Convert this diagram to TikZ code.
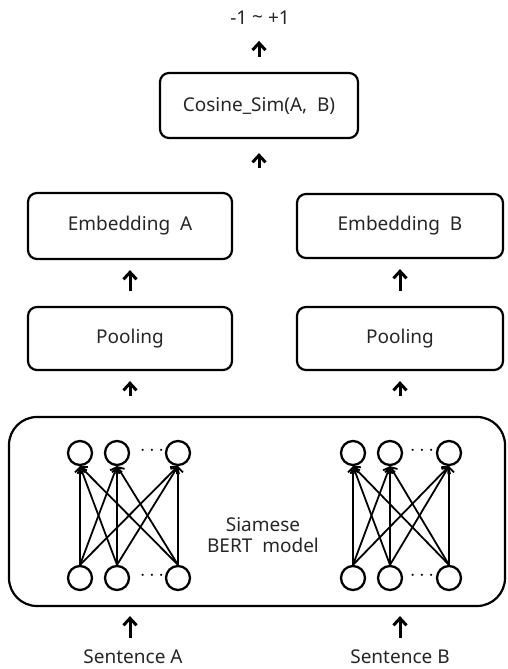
\documentclass[tikz,border=0pt]{standalone}
\usepackage{fontspec}
\setmainfont{Noto Sans}
\usetikzlibrary{arrows.meta,calc}

\begin{document}
\begin{tikzpicture}[x=1pt,y=-1pt,
  txt/.style={font=\fontsize{19}{22}\selectfont, text=black!85},
  block/.style={draw, line width=2.2pt, rounded corners=9pt, txt, inner sep=0pt},
  neuron/.style={draw, line width=2.3pt, circle, minimum size=24pt, inner sep=0pt},
  up/.style={line width=3pt, -{Straight Barb[length=7pt,width=13pt,line width=3pt]}},
  link/.style={line width=1.8pt, -{Straight Barb[length=5pt,width=10pt,line width=1.8pt]}},
  dots/.style={font=\fontsize{22}{22}\selectfont, inner sep=0pt}
]
\useasboundingbox (0,0) rectangle (507,669);

% output range and similarity
\node[txt] (out) at (260,18) {-1 {\raisebox{0.1ex}{\textasciitilde}} +1};
\node[block, minimum width=198pt, minimum height=65pt] (cos) at (259,105.5) {Cosine\_Sim(A,\ \ B)};

% embeddings and pooling
\node[block, minimum width=204pt, minimum height=66pt] (ea) at (130,226) {Embedding\ \ A};
\node[block, minimum width=206pt, minimum height=64pt] (eb) at (400,226) {Embedding\ \ B};
\node[block, minimum width=204pt, minimum height=63pt] (pa) at (130,338.5) {Pooling};
\node[block, minimum width=206pt, minimum height=63pt] (pb) at (400,338.5) {Pooling};

% shared encoder
\node[draw, line width=2.2pt, rounded corners=28pt, minimum width=496pt, minimum height=189pt, inner sep=0pt] (bert) at (257,511.5) {};
\node[txt, align=center, inner sep=0pt] (label) at (263,535) {Siamese\\[-1pt]BERT\ \ model};

% inputs
\node[txt] (sa) at (133,657) {Sentence A};
\node[txt] (sb) at (400,657) {Sentence B};

% neurons, tower A
\node[neuron] (at1) at (80,453) {};
\node[neuron] (at2) at (117,453) {};
\node[neuron] (at3) at (178,453) {};
\node[neuron] (ab1) at (80,578) {};
\node[neuron] (ab2) at (117,578) {};
\node[neuron] (ab3) at (178,578) {};
\node[dots] (atd) at (152,451) {$\cdots$};
\node[dots] (abd) at (152,576) {$\cdots$};

% neurons, tower B
\node[neuron] (bt1) at (353,453) {};
\node[neuron] (bt2) at (390,453) {};
\node[neuron] (bt3) at (449,453) {};
\node[neuron] (bb1) at (353,578) {};
\node[neuron] (bb2) at (390,578) {};
\node[neuron] (bb3) at (449,578) {};
\node[dots] (btd) at (422,451) {$\cdots$};
\node[dots] (bbd) at (422,576) {$\cdots$};

% full connections
\foreach \t in {a,b}{
  \foreach \i in {1,2,3}{
    \foreach \j in {1,2,3}{
      \draw[link] (\t b\i.north) -- (\t t\j.south);
    }
  }
}

% flow arrows
\draw[up] ([yshift=15pt]cos.north) -- ([yshift=31pt]cos.north);
\draw[up] ([yshift=-29pt]cos.south) -- ([yshift=-14pt]cos.south);
\draw[up] ([yshift=15pt]pa.north) -- ([yshift=-10pt]ea.south);
\draw[up] ([yshift=15pt]pb.north) -- ([yshift=-10pt]eb.south);
\draw[up] ([yshift=-25pt]pa.south) -- ([yshift=-10pt]pa.south);
\draw[up] ([yshift=-25pt]pb.south) -- ([yshift=-10pt]pb.south);
\draw[up] ($(pa.south |- bert.south)+(0,31)$) -- ($(pa.south |- bert.south)+(0,9)$);
\draw[up] ($(pb.south |- bert.south)+(0,31)$) -- ($(pb.south |- bert.south)+(0,9)$);
\end{tikzpicture}
\end{document}
